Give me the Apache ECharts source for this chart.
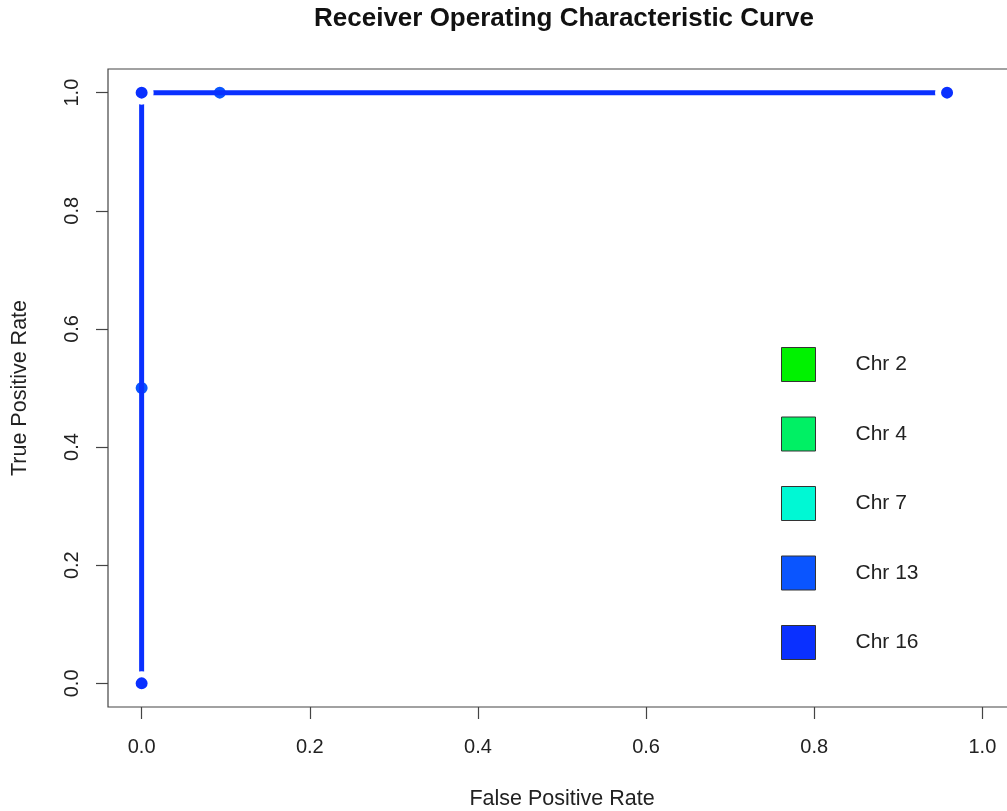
<!DOCTYPE html>
<html>
<head>
<meta charset="utf-8">
<title>Receiver Operating Characteristic Curve</title>
<script src="https://cdn.jsdelivr.net/npm/echarts@6/dist/echarts.min.js"></script>
<style>
  html, body { margin: 0; padding: 0; background: #ffffff; }
  #chart { width: 1007px; height: 811px; }
</style>
</head>
<body>
<div id="chart"></div>
<script>
// ROC curves per chromosome: [false positive rate, true positive rate]
const chromosomes = ['Chr 2', 'Chr 4', 'Chr 7', 'Chr 13', 'Chr 16'];
const chrColors = ['#00F200', '#00F064', '#00F8D4', '#0A55FF', '#0A30FF'];
const rocChr2  = [[0, 0], [0, 1], [0.958, 1]];
const rocChr4  = [[0, 0], [0, 1], [0.958, 1]];
const rocChr7  = [[0, 0], [0, 1], [0.958, 1]];
const rocChr13 = [[0, 0], [0, 0.5], [0, 1], [0.093, 1], [0.958, 1]];
const rocChr16 = [[0, 0], [0, 1], [0.958, 1]];
const rocData = [rocChr2, rocChr4, rocChr7, rocChr13, rocChr16];
const tickValues = [0, 0.2, 0.4, 0.6, 0.8, 1.0];

const FONT = '"Liberation Sans", Arial, Helvetica, sans-serif';

function axisCommon(isX) {
  return {
    type: 'value',
    min: -0.04,
    max: 1.04,
    splitLine: { show: false },
    axisLine: { show: false, onZero: false },
    axisTick: {
      show: true,
      inside: false,
      length: 12,
      customValues: tickValues,
      lineStyle: { color: '#444', width: 1.2 }
    },
    axisLabel: {
      customValues: tickValues,
      formatter: function (v) { return v.toFixed(1); },
      fontFamily: FONT,
      fontSize: 20,
      color: '#222',
      margin: isX ? 30 : 26,
      rotate: isX ? 0 : 90
    },
    nameLocation: 'middle',
    nameTextStyle: { fontFamily: FONT, fontSize: 21.5, color: '#222' }
  };
}

const xAxis = Object.assign(axisCommon(true), { name: 'False Positive Rate', nameGap: 81 });
const yAxis = Object.assign(axisCommon(false), { name: 'True Positive Rate', nameGap: 77 });

// Each curve is drawn as lines joined through points; the white ring around
// every point leaves a small gap in the line, the way R's type = "b" does.
const lastIndex = chromosomes.length - 1;
const series = chromosomes.map(function (name, i) {
  return {
    name: name,
    type: 'line',
    z: 2 + i,
    data: rocData[i],
    color: chrColors[i],
    showSymbol: true,
    symbol: 'circle',
    symbolSize: 18,
    lineStyle: { width: i === lastIndex ? 5 : 3, color: chrColors[i] },
    itemStyle: { color: chrColors[i], borderColor: '#ffffff', borderWidth: 6 },
    emphasis: { disabled: true },
    animation: false
  };
});

const chart = echarts.init(document.getElementById('chart'), null, { renderer: 'canvas' });
chart.setOption({
  backgroundColor: '#ffffff',
  animation: false,
  title: {
    text: 'Receiver Operating Characteristic Curve',
    left: 559,
    textAlign: 'center',
    top: 1,
    textStyle: { fontFamily: FONT, fontSize: 26, fontWeight: 'bold', color: '#111' }
  },
  grid: {
    left: 108,
    top: 69,
    width: 908,
    height: 638,
    outerBoundsMode: 'none',
    containLabel: false,
    show: true,
    borderColor: '#444',
    borderWidth: 1.2,
    backgroundColor: 'transparent'
  },
  legend: {
    orient: 'vertical',
    left: 781,
    top: 347,
    padding: 0,
    icon: 'rect',
    itemWidth: 34,
    itemHeight: 34,
    itemGap: 34.5,
    selectedMode: false,
    itemStyle: { borderColor: '#333', borderWidth: 1 },
    textStyle: { fontFamily: FONT, fontSize: 21, color: '#222', padding: [0, 0, 0, 35] },
    data: chromosomes
  },
  xAxis: xAxis,
  yAxis: yAxis,
  series: series
});
</script>
</body>
</html>
